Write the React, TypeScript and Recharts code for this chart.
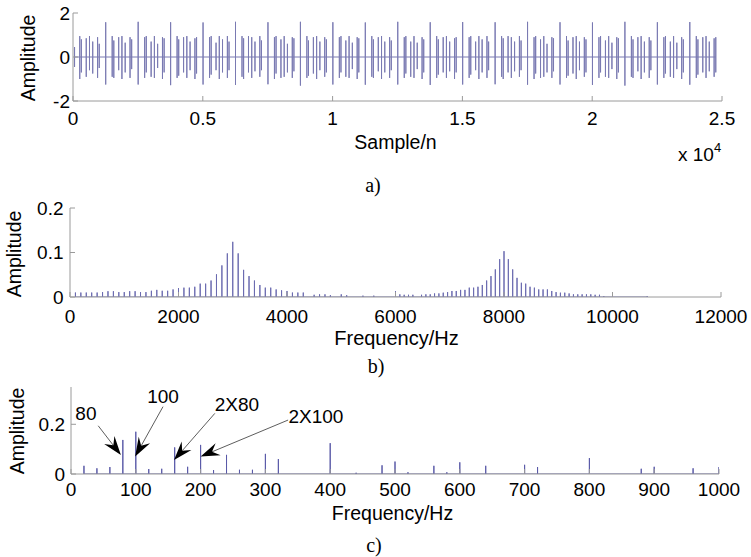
import React from "react";
import { LineChart, Line, XAxis, YAxis, ReferenceLine, ReferenceDot } from "recharts";

const SANS = '"Liberation Sans", Arial, sans-serif';
const SERIF = '"Liberation Serif", "Times New Roman", serif';
const BOX = "#9a9a9a";

// a) time signal, impulses: [sample, upper peak, lower peak]
const strongHits = [
  [1260, 1.58, -1.25], [2510, 1.6, -1.25], [3760, 1.58, -1.28], [5010, 1.57, -1.25],
  [6260, 1.6, -1.27], [7510, 1.58, -1.24], [8760, 1.6, -1.3], [10010, 1.58, -1.25],
  [11260, 1.57, -1.26], [12510, 1.6, -1.25], [13760, 1.58, -1.27], [15010, 1.59, -1.25],
  [16260, 1.58, -1.24], [17510, 1.6, -1.26], [18760, 1.58, -1.25], [20010, 1.57, -1.27],
  [21260, 1.6, -1.3], [22510, 1.58, -1.25], [23760, 1.59, -1.26],
];

const bursts = [
  [60, 0.45, -0.45], [260, 0.95, -1.0], [322, 0.8, -0.7], [510, 0.85, -0.9], [635, 0.95, -0.6], [760, 0.7, -0.75], [947, 0.9, -0.95], [1010, 0.6, -0.5],
  [1510, 0.95, -0.9], [1572, 0.75, -0.95], [1760, 0.9, -0.6], [1885, 0.95, -1.0], [2010, 0.65, -0.7], [2197, 0.9, -0.95], [2260, 0.8, -0.55],
  [2760, 0.9, -0.95], [2822, 0.95, -0.7], [3010, 0.7, -0.9], [3135, 0.95, -0.95], [3260, 0.6, -0.5], [3447, 0.9, -1.0], [3510, 0.85, -0.7],
  [4010, 0.95, -0.95], [4072, 0.8, -0.85], [4260, 0.9, -0.7], [4385, 0.95, -0.95], [4510, 0.7, -0.6], [4697, 0.85, -1.0], [4760, 0.9, -0.75],
  [5260, 0.9, -0.95], [5322, 0.95, -0.8], [5510, 0.65, -0.6], [5635, 0.95, -1.0], [5760, 0.8, -0.7], [5947, 0.95, -0.95], [6010, 0.7, -0.6],
  [6510, 0.95, -0.9], [6572, 0.85, -1.0], [6760, 0.95, -0.7], [6885, 0.9, -0.95], [7010, 0.7, -0.65], [7197, 0.95, -0.9], [7260, 0.75, -0.6],
  [7760, 0.9, -1.0], [7822, 0.95, -0.75], [8010, 0.8, -0.95], [8135, 0.95, -0.9], [8260, 0.6, -0.7], [8447, 0.9, -0.95], [8510, 0.85, -0.65],
  [9010, 0.95, -0.95], [9072, 0.75, -0.85], [9260, 0.9, -0.75], [9385, 0.95, -1.0], [9510, 0.7, -0.6], [9697, 0.9, -0.9], [9760, 0.8, -0.7],
  [10260, 0.9, -0.95], [10322, 0.95, -0.7], [10510, 0.75, -0.9], [10635, 0.95, -0.95], [10760, 0.65, -0.55], [10947, 0.9, -1.0], [11010, 0.85, -0.7],
  [11510, 0.95, -0.9], [11572, 0.8, -0.95], [11760, 0.9, -0.65], [11885, 0.95, -1.0], [12010, 0.7, -0.7], [12197, 0.9, -0.95], [12260, 0.75, -0.6],
  [12760, 0.9, -0.95], [12822, 0.95, -0.75], [13010, 0.7, -0.9], [13135, 0.95, -0.95], [13260, 0.65, -0.55], [13447, 0.9, -1.0], [13510, 0.8, -0.7],
  [14010, 0.95, -0.95], [14072, 0.8, -0.8], [14260, 0.9, -0.7], [14385, 0.95, -0.95], [14510, 0.7, -0.65], [14697, 0.85, -1.0], [14760, 0.9, -0.7],
  [15260, 0.9, -0.95], [15322, 0.95, -0.8], [15510, 0.7, -0.6], [15635, 0.95, -1.0], [15760, 0.8, -0.7], [15947, 0.95, -0.95], [16010, 0.7, -0.6],
  [16510, 0.95, -0.9], [16572, 0.85, -1.0], [16760, 0.95, -0.7], [16885, 0.9, -0.95], [17010, 0.7, -0.65], [17197, 0.95, -0.9], [17260, 0.75, -0.6],
  [17760, 0.9, -1.0], [17822, 0.95, -0.75], [18010, 0.8, -0.95], [18135, 0.95, -0.9], [18260, 0.6, -0.7], [18447, 0.9, -0.95], [18510, 0.85, -0.65],
  [19010, 0.95, -0.95], [19072, 0.75, -0.85], [19260, 0.9, -0.75], [19385, 0.95, -1.0], [19510, 0.7, -0.6], [19697, 0.9, -0.9], [19760, 0.8, -0.7],
  [20260, 0.9, -0.95], [20322, 0.95, -0.7], [20510, 0.75, -0.9], [20635, 0.95, -0.95], [20760, 0.65, -0.55], [20947, 0.9, -1.0], [21010, 0.85, -0.7],
  [21510, 0.95, -0.9], [21572, 0.8, -0.95], [21760, 0.9, -0.65], [21885, 0.95, -1.0], [22010, 0.7, -0.7], [22197, 0.9, -0.95], [22260, 0.75, -0.6],
  [22760, 0.9, -0.95], [22822, 0.95, -0.75], [23010, 0.7, -0.9], [23135, 0.95, -0.95], [23260, 0.65, -0.55], [23447, 0.9, -1.0], [23510, 0.8, -0.7],
  [24010, 0.95, -0.95], [24072, 0.8, -0.8], [24260, 0.9, -0.7], [24385, 0.95, -0.95], [24510, 0.7, -0.65], [24697, 0.85, -0.9], [24760, 0.9, -0.7],
];

const timeTicks = [0, 5000, 10000, 15000, 20000, 25000];
const timeAmpTicks = [-2, 0, 2];

// b) spectrum
const spectrumFreq = [
  100, 200, 300, 400, 500, 600, 700, 800, 900, 1000, 1100, 1200, 1300, 1400, 1500, 1600, 1700, 1800, 1900, 2000,
  2100, 2200, 2300, 2400, 2500, 2600, 2700, 2800, 2900, 3000, 3100, 3200, 3300, 3400, 3500, 3600, 3700, 3800, 3900, 4000,
  4100, 4200, 4300, 4500, 4600, 4700, 4800, 5000, 5100, 5400, 5600,
  6000, 6080, 6160, 6240, 6320, 6480, 6560, 6640, 6720, 6800, 6880, 6960, 7040, 7120, 7200, 7280, 7360, 7440, 7520, 7600,
  7680, 7760, 7840, 7920, 8000, 8080, 8160, 8240, 8320, 8400, 8480, 8560, 8640, 8720, 8800, 8880, 8960, 9040, 9120, 9200,
  9280, 9360, 9440, 9520, 9600, 9680, 9760, 9840, 10640,
];
const spectrumAmp = [
  0.01, 0.01, 0.01, 0.01, 0.01, 0.011, 0.013, 0.013, 0.011, 0.011, 0.013, 0.013, 0.011, 0.011, 0.014, 0.016, 0.014, 0.014, 0.017, 0.02,
  0.021, 0.021, 0.023, 0.03, 0.03, 0.037, 0.051, 0.071, 0.098, 0.124, 0.098, 0.061, 0.047, 0.037, 0.027, 0.021, 0.021, 0.017, 0.015, 0.0135,
  0.01, 0.01, 0.01, 0.005, 0.006, 0.006, 0.004, 0.006, 0.004, 0.003, 0.003,
  0.013, 0.006, 0.005, 0.005, 0.005, 0.005, 0.006, 0.006, 0.008, 0.008, 0.0097, 0.011, 0.0135, 0.0135, 0.016, 0.016, 0.021, 0.021, 0.023, 0.027,
  0.037, 0.047, 0.062, 0.085, 0.103, 0.085, 0.062, 0.043, 0.032, 0.03, 0.023, 0.021, 0.017, 0.017, 0.017, 0.0135, 0.011, 0.0097, 0.0097, 0.008,
  0.006, 0.006, 0.006, 0.006, 0.006, 0.005, 0.005, 0.002, 0.002,
];
const spectrumTicks = [0, 2000, 4000, 6000, 8000, 10000, 12000];
const spectrumAmpTicks = [0, 0.1, 0.2];

// c) envelope spectrum
const envFreq = [20, 40, 60, 80, 100, 120, 140, 160, 180, 200, 220, 240, 260, 280, 300, 320, 400, 440, 480, 500, 520, 560, 580, 600, 640, 700, 720, 800, 880, 900, 960, 1000];
const envAmp = [0.033, 0.023, 0.028, 0.137, 0.17, 0.02, 0.021, 0.107, 0.029, 0.117, 0.016, 0.077, 0.017, 0.017, 0.081, 0.06, 0.124, 0.005, 0.035, 0.05, 0.007, 0.033, 0.007, 0.047, 0.033, 0.037, 0.028, 0.064, 0.021, 0.029, 0.023, 0.028];
const envTicks = [0, 100, 200, 300, 400, 500, 600, 700, 800, 900, 1000];
const envAmpTicks = [0, 0.2];

const envNotes = [
  { text: "80", labelF: 23, labelA: 0.245, tailF: 42, tailA: 0.194, tipF: 77, tipA: 0.076 },
  { text: "100", labelF: 142, labelA: 0.311, tailF: 142, tailA: 0.271, tipF: 99, tipA: 0.07 },
  { text: "2X80", labelF: 256, labelA: 0.278, tailF: 222, tailA: 0.244, tipF: 159, tipA: 0.056 },
  { text: "2X100", labelF: 378, labelA: 0.23, tailF: 335, tailA: 0.217, tipF: 200, tipA: 0.07 },
];

function sticks(xs: number[], ys: number[]) {
  const out: { x: number; y: number }[] = [];
  xs.forEach((x, i) => {
    out.push({ x, y: 0 }, { x, y: ys[i] }, { x, y: 0 });
  });
  return out;
}

const timeData = (() => {
  const all = [...strongHits, ...bursts].sort((a, b) => a[0] - b[0]);
  const out: { x: number; y: number }[] = [];
  all.forEach(([n, hi, lo]) => {
    out.push({ x: n, y: 0 }, { x: n, y: hi }, { x: n, y: lo }, { x: n, y: 0 });
  });
  return out;
})();
const spectrumData = sticks(spectrumFreq, spectrumAmp);
const envData = sticks(envFreq, envAmp);

const tickFont = { fontSize: 19, fill: "#000", fontFamily: SANS };

function Arrow(props: any) {
  const { x1, y1, x2, y2 } = props;
  const dx = x2 - x1;
  const dy = y2 - y1;
  const len = Math.sqrt(dx * dx + dy * dy) || 1;
  const ux = dx / len;
  const uy = dy / len;
  const px = -uy;
  const py = ux;
  const L = 19;
  const W = 6.5;
  const bx = x2 - ux * L;
  const by = y2 - uy * L;
  const nx = x2 - ux * L * 0.65;
  const ny = y2 - uy * L * 0.65;
  const pts = [
    [x2, y2],
    [bx + px * W, by + py * W],
    [nx, ny],
    [bx - px * W, by - py * W],
  ]
    .map((p) => p.join(","))
    .join(" ");
  return (
    <g>
      <line x1={x1} y1={y1} x2={nx} y2={ny} stroke="#333" strokeWidth={0.8} />
      <polygon points={pts} fill="#000" />
    </g>
  );
}

function NoteText(props: any) {
  const { cx, cy, text } = props;
  return (
    <text x={cx} y={cy} textAnchor="middle" dominantBaseline="central" fontSize={19} fontFamily={SANS} fill="#000">
      {text}
    </text>
  );
}

function Txt({ x, y, size = 19.5, serif = false, rotate = false, children }: any) {
  return (
    <div
      style={{
        position: "absolute",
        left: x,
        top: y,
        transform: `translate(-50%, -50%)${rotate ? " rotate(-90deg)" : ""}`,
        fontFamily: serif ? SERIF : SANS,
        fontSize: size,
        lineHeight: 1,
        whiteSpace: "nowrap",
        color: "#000",
      }}
    >
      {children}
    </div>
  );
}

export default function App() {
  return (
    <div style={{ position: "absolute", left: 0, top: 0, width: 751, height: 557, background: "#fff", overflow: "hidden" }}>
      {/* a) */}
      <div style={{ position: "absolute", left: 0, top: 0 }}>
        <LineChart width={751} height={140} data={timeData} margin={{ top: 13, right: 29, bottom: 9, left: 0 }}>
          <XAxis dataKey="x" type="number" domain={[0, 25000]} ticks={timeTicks} tickFormatter={(v: number) => String(v / 10000)}
            stroke={BOX} tick={tickFont} tickSize={-5} tickMargin={16} height={30} interval={0} allowDataOverflow />
          <XAxis xAxisId="top" orientation="top" dataKey="x" type="number" domain={[0, 25000]} ticks={timeTicks}
            stroke={BOX} tick={false} tickSize={-5} height={0} allowDataOverflow />
          <YAxis type="number" domain={[-2, 2]} ticks={timeAmpTicks} stroke={BOX} tick={tickFont} tickSize={-5} tickMargin={8} width={73} interval={0} allowDataOverflow />
          <YAxis yAxisId="right" orientation="right" type="number" domain={[-2, 2]} ticks={timeAmpTicks} stroke={BOX} tick={false} tickSize={-5} width={0} allowDataOverflow />
          <Line dataKey="y" stroke="#7a7ab2" strokeWidth={1} dot={false} isAnimationActive={false} />
        </LineChart>
      </div>

      {/* b) */}
      <div style={{ position: "absolute", left: 0, top: 180 }}>
        <LineChart width={751} height={150} data={spectrumData} margin={{ top: 28, right: 30, bottom: 3, left: 0 }}>
          <XAxis dataKey="x" type="number" domain={[0, 12000]} ticks={spectrumTicks}
            stroke={BOX} tick={tickFont} tickSize={-5} tickMargin={18} height={30} interval={0} allowDataOverflow />
          <XAxis xAxisId="top" orientation="top" dataKey="x" type="number" domain={[0, 12000]} ticks={spectrumTicks}
            stroke={BOX} tick={false} tickSize={-5} height={0} allowDataOverflow />
          <YAxis type="number" domain={[0, 0.2]} ticks={spectrumAmpTicks} stroke={BOX} tick={tickFont} tickSize={-5} tickMargin={11.5} width={70} interval={0} allowDataOverflow />
          <YAxis yAxisId="right" orientation="right" type="number" domain={[0, 0.2]} ticks={spectrumAmpTicks} stroke={BOX} tick={false} tickSize={-5} width={0} allowDataOverflow />
          <Line dataKey="y" stroke="#6b6bb0" strokeWidth={1} dot={false} isAnimationActive={false} />
        </LineChart>
      </div>

      {/* c) */}
      <div style={{ position: "absolute", left: 0, top: 360 }}>
        <LineChart width={751} height={150} data={envData} margin={{ top: 27, right: 32, bottom: 6, left: 0 }}>
          <XAxis dataKey="x" type="number" domain={[0, 1000]} ticks={envTicks}
            stroke={BOX} tick={tickFont} tickSize={-5} tickMargin={14} height={30} interval={0} allowDataOverflow />
          <XAxis xAxisId="top" orientation="top" dataKey="x" type="number" domain={[0, 1000]} ticks={envTicks}
            stroke={BOX} tick={false} tickSize={-5} height={0} allowDataOverflow />
          <YAxis type="number" domain={[0, 0.35]} ticks={envAmpTicks} stroke={BOX} tick={tickFont} tickSize={-5} tickMargin={11} width={71} interval={0} allowDataOverflow />
          <YAxis yAxisId="right" orientation="right" type="number" domain={[0, 0.35]} ticks={envAmpTicks} stroke={BOX} tick={false} tickSize={-5} width={0} allowDataOverflow />
          <Line dataKey="y" stroke="#5a5aa8" strokeWidth={1} dot={false} isAnimationActive={false} />
          {envNotes.map((n) => (
            <ReferenceLine
              key={"l" + n.text}
              segment={[{ x: n.tailF, y: n.tailA }, { x: n.tipF, y: n.tipA }]}
              ifOverflow="visible"
              shape={(p: any) => <Arrow {...p} />}
            />
          ))}
          {envNotes.map((n) => (
            <ReferenceDot
              key={"t" + n.text}
              x={n.labelF}
              y={n.labelA}
              ifOverflow="visible"
              shape={(p: any) => <NoteText {...p} text={n.text} />}
            />
          ))}
        </LineChart>
      </div>

      <Txt x={29} y={58} rotate>Amplitude</Txt>
      <Txt x={395.5} y={143}>Sample/n</Txt>
      <div style={{ position: "absolute", left: 678, top: 145, fontFamily: SANS, fontSize: 19, lineHeight: 1, whiteSpace: "nowrap" }}>
        x 10<span style={{ position: "relative", top: -9, fontSize: 13 }}>4</span>
      </div>
      <Txt x={373} y={185} size={20} serif>a)</Txt>

      <Txt x={14.7} y={254} rotate>Amplitude</Txt>
      <Txt x={396.5} y={338} size={20}>Frequency/Hz</Txt>
      <Txt x={376} y={366} size={20} serif>b)</Txt>

      <Txt x={17.5} y={431} rotate>Amplitude</Txt>
      <Txt x={392.5} y={514} size={19.5}>Frequency/Hz</Txt>
      <Txt x={374} y={545} size={20} serif>c)</Txt>
    </div>
  );
}
